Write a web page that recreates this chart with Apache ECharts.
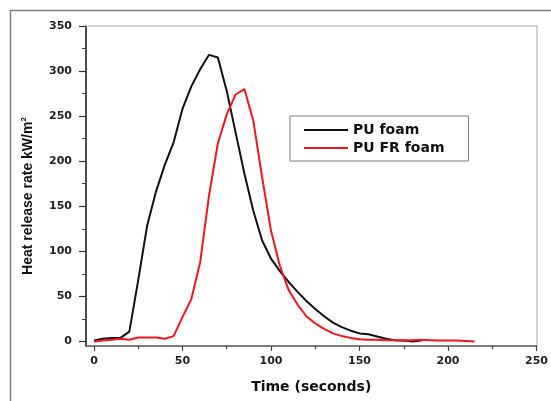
<!DOCTYPE html>
<html><head><meta charset="utf-8">
<script src="https://cdn.jsdelivr.net/npm/echarts@6/dist/echarts.min.js"></script>
<style>html,body{margin:0;padding:0;background:#fff;overflow:hidden}#c{width:551px;height:401px}</style>
</head><body><div id="c"></div>
<script>
const timePU = [0,5,10,15,20,25,30,35,40,45,50,55,60,65,70,75,80,85,90,95,100,105,110,115,120,125,130,135,140,145,150,155,160,165,170,175,180,185];
const hrrPU  = [1,3,4,4,11,68,128,166,196,221,258,283,302,318,315,278,232,186,145,112,92,78,66,55,45,36,28,21,16,12,9,8,5.5,3,1.5,1,0,1];
const timeFR = [0,5,10,15,20,25,30,35,40,45,50,55,60,65,70,75,80,85,90,95,100,105,110,115,120,125,130,135,140,145,150,155,160,165,170,175,180,185,190,195,200,205,210,215];
const hrrFR  = [0,1,2,3,2,4.5,4.5,4.5,3,6,27,47,88,162,220,252,274,280,245,182,123,84,57,41,28,20,14,9,6,4,2.5,2,2,1.5,1.5,1,1.5,2,1.5,1,1,1,0.5,0];
const xTicks = [0,50,100,150,200,250];
const xMinor = [25,75,125,175,225];
const yTicks = [0,50,100,150,200,250,300,350];
const yMinor = [25,75,125,175,225,275,325];
const seriesNames = ['PU foam','PU FR foam'];

const chart = echarts.init(document.getElementById('c'), null, {renderer:'canvas'});
const lbl = {fontFamily:'DejaVu Sans', fontWeight:'bold', fontSize:11, color:'#222'};
const grid = {left:86, right:11, top:26, bottom:55, containLabel:false, show:false};
const XMIN=-4.5, XMAX=250, YMIN=-5, YMAX=350;
chart.setOption({
  animation:false,
  backgroundColor:'#fff',
  graphic:[{type:'polyline', shape:{points:[[10.5,401],[10.5,10.5],[551,10.5]]}, style:{fill:null, stroke:'#808080', lineWidth:1.5}, z:-1}],
  grid: grid,
  legend:{
    data:seriesNames, orient:'vertical', left:290, top:116,
    padding:[6,24,5,13], itemGap:2, itemWidth:44, itemHeight:14,
    borderColor:'#7a7a7a', borderWidth:1, backgroundColor:'#fff',
    textStyle:{fontFamily:'DejaVu Sans', fontWeight:'bold', fontSize:14, color:'#111', lineHeight:16, padding:[0,0,0,0]},
    itemStyle:{opacity:0}
  },
  xAxis:[
    {type:'value', min:XMIN, max:XMAX, position:'bottom',
     name:'Time (seconds)', nameLocation:'middle', nameGap:34,
     nameTextStyle:{fontFamily:'DejaVu Sans', fontWeight:'bold', fontSize:14, color:'#111'},
     axisLine:{show:true, onZero:false, lineStyle:{color:'#555', width:1.5}},
     axisTick:{show:true, customValues:xTicks, length:5, lineStyle:{color:'#444', width:1.2}},
     axisLabel:Object.assign({customValues:xTicks, margin:10}, lbl),
     splitLine:{show:false}},
    {type:'value', min:XMIN, max:XMAX, position:'bottom',
     axisLine:{show:false, onZero:false}, axisLabel:{show:false}, splitLine:{show:false},
     axisTick:{show:true, customValues:xMinor, length:3, lineStyle:{color:'#444', width:1.2}}},
    {type:'value', min:XMIN, max:XMAX, position:'top',
     axisLine:{show:true, onZero:false, lineStyle:{color:'#c8c8c8', width:1.5}},
     axisTick:{show:false}, axisLabel:{show:false}, splitLine:{show:false}}
  ],
  yAxis:[
    {type:'value', min:YMIN, max:YMAX, position:'left',
     name:'Heat release rate kW/m{sup|2}', nameLocation:'middle', nameGap:50,
     nameTextStyle:{fontFamily:'Liberation Sans', fontWeight:'bold', fontSize:14, color:'#111', padding:[0,20,0,0],
       rich:{sup:{fontFamily:'Liberation Sans', fontWeight:'bold', fontSize:8, color:'#111', verticalAlign:'top', padding:[0,0,8,0]}}},
     axisLine:{show:true, onZero:false, lineStyle:{color:'#111', width:1.5}},
     axisTick:{show:true, customValues:yTicks, length:7, lineStyle:{color:'#333', width:1.2}},
     axisLabel:Object.assign({customValues:yTicks, margin:14}, lbl),
     splitLine:{show:false}},
    {type:'value', min:YMIN, max:YMAX, position:'left',
     axisLine:{show:false, onZero:false}, axisLabel:{show:false}, splitLine:{show:false},
     axisTick:{show:true, customValues:yMinor, length:4, lineStyle:{color:'#444', width:1}}},
    {type:'value', min:YMIN, max:YMAX, position:'right',
     axisLine:{show:true, onZero:false, lineStyle:{color:'#c4c4c4', width:1.5}},
     axisTick:{show:false}, axisLabel:{show:false}, splitLine:{show:false}}
  ],
  series:[
    {name:seriesNames[0], type:'line', xAxisIndex:0, yAxisIndex:0, symbol:'none', showSymbol:false,
     data: timePU.map((t,i)=>[t,hrrPU[i]]), lineStyle:{color:'#111', width:2}, itemStyle:{color:'#111'}},
    {name:seriesNames[1], type:'line', xAxisIndex:0, yAxisIndex:0, symbol:'none', showSymbol:false,
     data: timeFR.map((t,i)=>[t,hrrFR[i]]), lineStyle:{color:'#f5141e', width:2}, itemStyle:{color:'#f5141e'}}
  ]
});
</script></body></html>
